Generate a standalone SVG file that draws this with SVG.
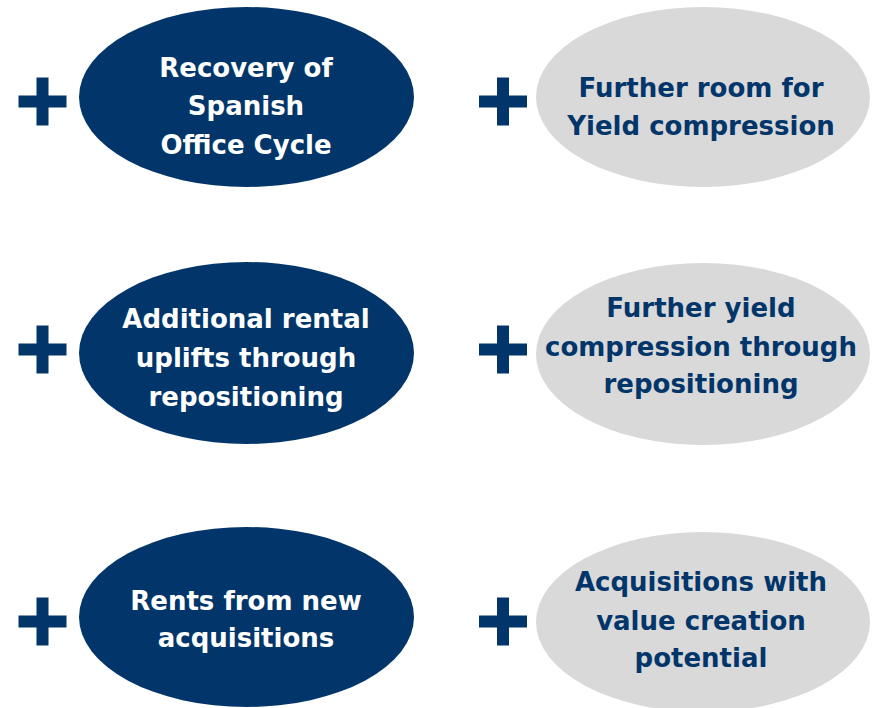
<svg xmlns="http://www.w3.org/2000/svg" width="876" height="708" viewBox="0 0 876 708">
<defs>
<style>
.dark{fill:#02366A}
.light{fill:#D9D9D9}
.plus{fill:#02366A}
text{font-family:"DejaVu Sans","Liberation Sans",sans-serif;font-weight:bold;font-size:26px;text-anchor:middle}
.tw{fill:#FFFFFF}
.tn{fill:#02366A}
</style>
<path id="plusShape" d="M-24,-6 H-6 V-24 H6 V-6 H24 V6 H6 V24 H-6 V6 H-24 Z"/>
</defs>
<rect width="876" height="708" fill="#FFFFFF"/>
<g id="connectors"/>
<g id="plus1"><use href="#plusShape" class="plus" x="42.5" y="101.5"/></g>
<g id="plus2"><use href="#plusShape" class="plus" x="503" y="101.5"/></g>
<g id="plus3"><use href="#plusShape" class="plus" x="42.5" y="349.5"/></g>
<g id="plus4"><use href="#plusShape" class="plus" x="503" y="349.5"/></g>
<g id="plus5"><use href="#plusShape" class="plus" x="42.5" y="621.5"/></g>
<g id="plus6"><use href="#plusShape" class="plus" x="503" y="621.5"/></g>
<g id="n1">
<ellipse class="dark" cx="246.5" cy="97" rx="167.5" ry="90"/>
<text class="tw" x="246" y="77">Recovery of</text>
<text class="tw" x="246" y="115">Spanish</text>
<text class="tw" x="246" y="154">Office Cycle</text>
</g>
<g id="n2">
<ellipse class="light" cx="703" cy="97" rx="167" ry="90"/>
<text class="tn" x="701" y="97">Further room for</text>
<text class="tn" x="701" y="135">Yield compression</text>
</g>
<g id="n3">
<ellipse class="dark" cx="246.5" cy="353" rx="167.5" ry="91"/>
<text class="tw" x="246" y="328">Additional rental</text>
<text class="tw" x="246" y="367">uplifts through</text>
<text class="tw" x="246" y="406">repositioning</text>
</g>
<g id="n4">
<ellipse class="light" cx="703" cy="354" rx="167" ry="91"/>
<text class="tn" x="701" y="317">Further yield</text>
<text class="tn" x="701" y="356">compression through</text>
<text class="tn" x="701" y="393">repositioning</text>
</g>
<g id="n5">
<ellipse class="dark" cx="246.5" cy="617" rx="167.5" ry="90"/>
<text class="tw" x="246" y="610">Rents from new</text>
<text class="tw" x="246" y="647">acquisitions</text>
</g>
<g id="n6">
<ellipse class="light" cx="703" cy="622" rx="167" ry="90"/>
<text class="tn" x="701" y="591">Acquisitions with</text>
<text class="tn" x="701" y="630">value creation</text>
<text class="tn" x="701" y="667">potential</text>
</g>
</svg>
